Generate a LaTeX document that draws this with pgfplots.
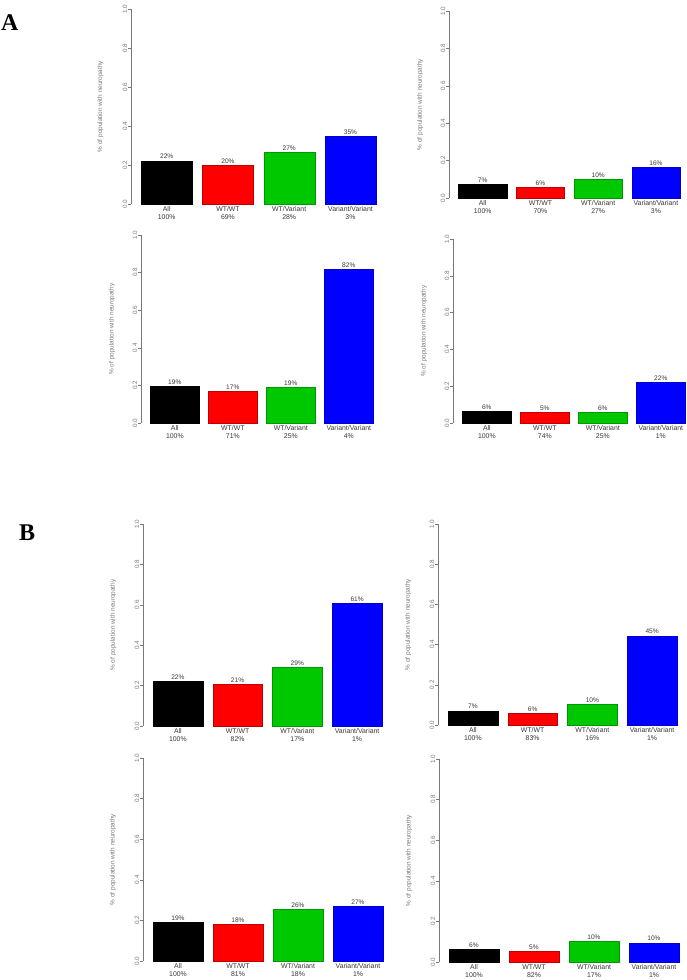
\documentclass[border=0pt]{standalone}
\usepackage{pgfplots}
\pgfplotsset{compat=1.18}
\usepackage{fontspec}
\setmainfont{Liberation Sans}
\newfontfamily\serifbold{Liberation Serif}
\definecolor{rred}{RGB}{255,0,0}
\definecolor{rgreen}{RGB}{0,200,0}
\definecolor{rblue}{RGB}{0,0,255}
\definecolor{axgray}{RGB}{120,120,120}
\definecolor{txgray}{RGB}{55,55,55}
\pgfplotsset{
  panel/.style={
    scale only axis, anchor=south west,
    xmin=0, xmax=4.8, ymin=0, ymax=1,
    axis y line*=left, axis x line*=bottom,
    x axis line style={draw=none},
    y axis line style={draw=axgray, line width=0.5pt},
    xtick={0.7,1.9,3.1,4.3},
    xtick style={draw=none},
    ytick={0,0.2,0.4,0.6,0.8,1},
    yticklabels={0.0,0.2,0.4,0.6,0.8,1.0},
    ytick style={draw=axgray, line width=0.5pt},
    tick align=outside, major tick length=3pt,
    yticklabel style={rotate=90, anchor=south, font=\fontsize{6.3}{7}\selectfont, text=axgray, inner sep=0.5pt},
    xticklabel style={align=center, font=\fontsize{6.9}{8}\selectfont, text=txgray, inner sep=0pt, anchor=north, yshift=1pt},
    ylabel={\% of population with neuropathy},
    ylabel style={at={(axis description cs:-0.125,0.5)}, anchor=center, font=\fontsize{6.4}{7}\selectfont, text=axgray},
    ybar, bar width=1,
    nodes near coords={\pgfplotspointmeta\%},
    point meta=explicit symbolic,
    nodes near coords style={font=\fontsize{6.6}{7}\selectfont, text=txgray, anchor=south, inner sep=1.5pt},
    clip=false,
  }
}
\newcommand\bars[8]{%
  \addplot[fill=black,draw=black,line width=0.4pt,bar shift=0pt] coordinates {(0.7,#1)[#5]};
  \addplot[fill=rred,draw=rred!75!black,line width=0.4pt,bar shift=0pt] coordinates {(1.9,#2)[#6]};
  \addplot[fill=rgreen,draw=rgreen!75!black,line width=0.4pt,bar shift=0pt] coordinates {(3.1,#3)[#7]};
  \addplot[fill=rblue,draw=rblue!80!black,line width=0.4pt,bar shift=0pt] coordinates {(4.3,#4)[#8]};
}
\begin{document}
\begin{tikzpicture}
\path[use as bounding box] (0,0) rectangle (686pt,980pt);
\node[anchor=base west, inner sep=0pt, font=\serifbold\bfseries\fontsize{24}{24}\selectfont] at (1pt,949pt) {A};
\node[anchor=base west, inner sep=0pt, font=\serifbold\bfseries\fontsize{24}{24}\selectfont] at (19pt,439pt) {B};

% A1
\begin{axis}[panel, at={(131pt,776pt)}, width=245pt, height=195pt,
  xticklabels={{All\\100\%},{WT/WT\\69\%},{WT/Variant\\28\%},{Variant/Variant\\3\%}}]
\bars{0.222}{0.198}{0.267}{0.348}{22}{20}{27}{35}
\end{axis}
% A2
\begin{axis}[panel, at={(449pt,782pt)}, width=231pt, height=187pt,
  xticklabels={{All\\100\%},{WT/WT\\70\%},{WT/Variant\\27\%},{Variant/Variant\\3\%}}]
\bars{0.075}{0.058}{0.100}{0.162}{7}{6}{10}{16}
\end{axis}
% A3
\begin{axis}[panel, at={(141pt,557pt)}, width=232pt, height=188pt,
  xticklabels={{All\\100\%},{WT/WT\\71\%},{WT/Variant\\25\%},{Variant/Variant\\4\%}}]
\bars{0.197}{0.168}{0.189}{0.820}{19}{17}{19}{82}
\end{axis}
% A4
\begin{axis}[panel, at={(453pt,557pt)}, width=232pt, height=184pt,
  xticklabels={{All\\100\%},{WT/WT\\74\%},{WT/Variant\\25\%},{Variant/Variant\\1\%}}]
\bars{0.064}{0.056}{0.057}{0.219}{6}{5}{6}{22}
\end{axis}
% B1
\begin{axis}[panel, at={(143pt,254pt)}, width=239pt, height=202pt,
  xticklabels={{All\\100\%},{WT/WT\\82\%},{WT/Variant\\17\%},{Variant/Variant\\1\%}}]
\bars{0.224}{0.209}{0.290}{0.610}{22}{21}{29}{61}
\end{axis}
% B2
\begin{axis}[panel, at={(438pt,255pt)}, width=239pt, height=201pt,
  xticklabels={{All\\100\%},{WT/WT\\83\%},{WT/Variant\\16\%},{Variant/Variant\\1\%}}]
\bars{0.071}{0.058}{0.103}{0.444}{7}{6}{10}{45}
\end{axis}
% B3
\begin{axis}[panel, at={(143pt,19pt)}, width=240pt, height=203pt,
  xticklabels={{All\\100\%},{WT/WT\\81\%},{WT/Variant\\18\%},{Variant/Variant\\1\%}}]
\bars{0.192}{0.179}{0.255}{0.270}{19}{18}{26}{27}
\end{axis}
% B4
\begin{axis}[panel, at={(439pt,18pt)}, width=240pt, height=203pt,
  xticklabels={{All\\100\%},{WT/WT\\82\%},{WT/Variant\\17\%},{Variant/Variant\\1\%}}]
\bars{0.062}{0.053}{0.103}{0.095}{6}{5}{10}{10}
\end{axis}
\end{tikzpicture}
\end{document}
